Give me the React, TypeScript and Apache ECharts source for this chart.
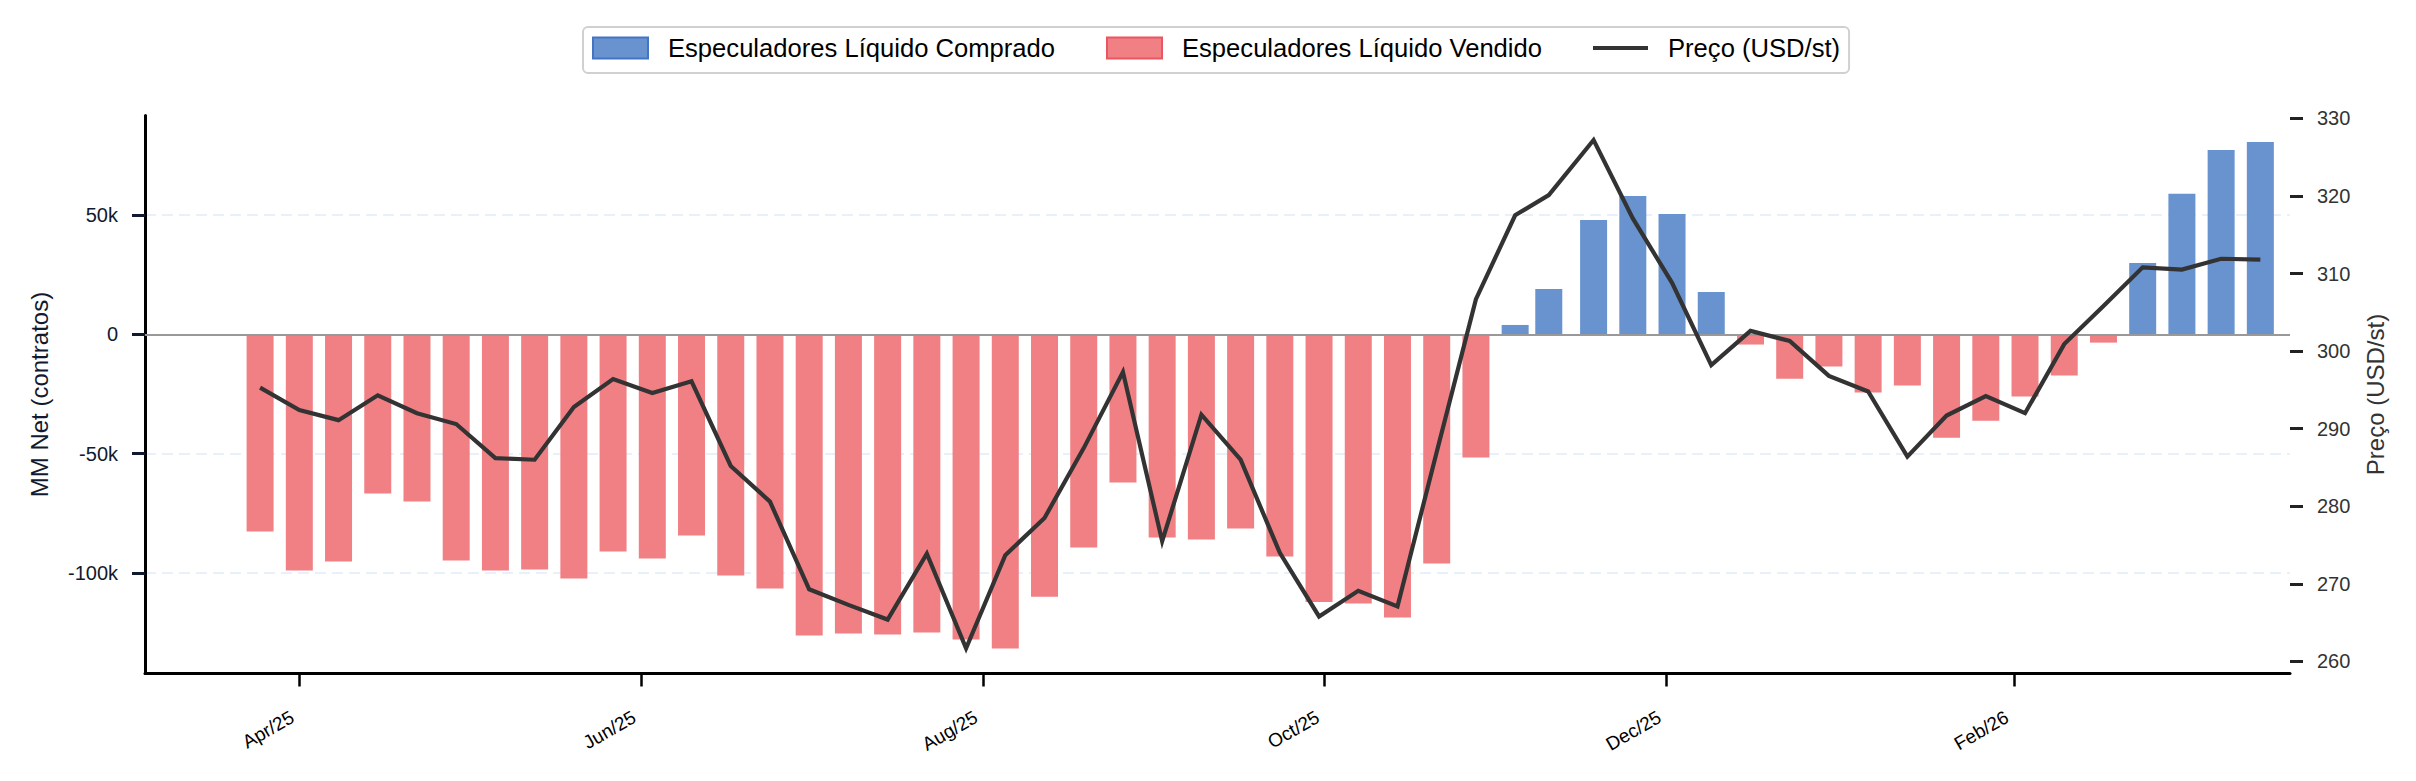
import React, { useEffect, useRef } from 'react';
import * as echarts from 'echarts';

// Weekly COT report dates (Tuesday; Nov 10 due to holiday)
const weekDates = [
  '2025-03-25', '2025-04-01', '2025-04-08', '2025-04-15', '2025-04-22', '2025-04-29',
  '2025-05-06', '2025-05-13', '2025-05-20', '2025-05-27', '2025-06-03', '2025-06-10',
  '2025-06-17', '2025-06-24', '2025-07-01', '2025-07-08', '2025-07-15', '2025-07-22',
  '2025-07-29', '2025-08-05', '2025-08-12', '2025-08-19', '2025-08-26', '2025-09-02',
  '2025-09-09', '2025-09-16', '2025-09-23', '2025-09-30', '2025-10-07', '2025-10-14',
  '2025-10-21', '2025-10-28', '2025-11-04', '2025-11-10', '2025-11-18', '2025-11-25',
  '2025-12-02', '2025-12-09', '2025-12-16', '2025-12-23', '2025-12-30', '2026-01-06',
  '2026-01-13', '2026-01-20', '2026-01-27', '2026-02-03', '2026-02-10', '2026-02-17',
  '2026-02-24', '2026-03-03', '2026-03-10', '2026-03-17',
];

// Managed money net position, thousands of contracts
const mmNetK = [
  -82.6, -99.0, -95.2, -66.7, -70.1, -94.8, -99.0, -98.5, -102.3, -91.0, -93.9, -84.3, -101.1, -106.5,
  -126.2, -125.3, -125.8, -124.9, -127.9, -131.6, -109.9, -89.3, -62.1, -85.1, -86.0, -81.4, -93.1,
  -112.1, -112.8, -118.6, -96.0, -51.6, 3.9, 19.0, 47.9, 57.9, 50.4, 17.7, -4.3, -18.6,
  -13.5, -24.4, -21.5, -43.3, -36.2, -26.1, -17.3, -3.5, 29.9, 58.9, 77.2, 80.5,
];

// Price USD/st
const priceUsd = [
  295.3, 292.4, 291.1, 294.3, 292.0, 290.6, 286.2, 286.0, 292.8, 296.4, 294.6, 296.1, 285.2, 280.6,
  269.3, 267.3, 265.4, 273.9, 261.7, 273.7, 278.5, 287.5, 297.3, 275.5, 291.8, 286.0, 274.0,
  265.8, 269.1, 267.1, 287.0, 306.7, 317.5, 320.1, 327.2, 317.1, 308.8, 298.2, 302.6, 301.3,
  296.8, 294.8, 286.4, 291.7, 294.2, 292.0, 300.9, 305.8, 310.8, 310.5, 311.9, 311.8,
];

const xTickDates = ['2025-04-01', '2025-06-01', '2025-08-01', '2025-10-01', '2025-12-01', '2026-02-01'];
const leftTicks = [-100000, -50000, 0, 50000];
const rightTicks = [260, 270, 280, 290, 300, 310, 320, 330];
const MONTHS = ['Jan', 'Feb', 'Mar', 'Apr', 'May', 'Jun', 'Jul', 'Aug', 'Sep', 'Oct', 'Nov', 'Dec'];

const NAME_LONG = 'Especuladores Líquido Comprado';
const NAME_SHORT = 'Especuladores Líquido Vendido';
const NAME_PRICE = 'Preço (USD/st)';

const ts = (s: string) => {
  const [y, m, d] = s.split('-').map(Number);
  return new Date(y, m - 1, d).getTime();
};

export default function App() {
  const ref = useRef<HTMLDivElement>(null);

  useEffect(() => {
    const chart = echarts.init(ref.current as HTMLDivElement, null, { renderer: 'svg' });
    const font = "'Liberation Sans', Arial, Helvetica, sans-serif";
    const HOUR = 3600 * 1000;

    const longData = weekDates
      .map((d, i) => [ts(d), mmNetK[i] * 1000])
      .filter((p) => p[1] > 0);
    const shortData = weekDates
      .map((d, i) => [ts(d), mmNetK[i] * 1000])
      .filter((p) => p[1] <= 0);
    const priceData = weekDates.map((d, i) => [ts(d), priceUsd[i]]);

    const blue = '#6893cf';
    const red = '#f18085';
    const xTicks = xTickDates.map(ts);

    chart.setOption({
      animation: false,
      textStyle: { fontFamily: font },
      legend: {
        left: 583,
        top: 27,
        orient: 'horizontal',
        padding: [7, 9, 11, 9],
        itemGap: 51,
        itemWidth: 55,
        itemHeight: 21,
        borderColor: '#d0d0d0',
        borderWidth: 2,
        borderRadius: 5,
        backgroundColor: '#ffffff',
        textStyle: {
          fontFamily: font,
          fontSize: 25.6,
          color: '#000000',
          lineHeight: 28,
          padding: [0, 0, 0, 15],
        },
        data: [
          { name: NAME_LONG, icon: 'rect', itemStyle: { color: blue, borderColor: '#4474c4', borderWidth: 2 } },
          { name: NAME_SHORT, icon: 'rect', itemStyle: { color: red, borderColor: '#e95560', borderWidth: 2 } },
          {
            name: NAME_PRICE,
            icon: 'path://M0,0H55V4.2H0Z',
            itemStyle: { color: '#333333', borderWidth: 0 },
          },
        ],
      },
      grid: {
        left: 145,
        right: 126,
        top: 115.6,
        bottom: 107.5,
        containLabel: false,
        outerBoundsMode: 'none',
      },
      xAxis: {
        type: 'value',
        min: ts('2025-03-04') + 11 * HOUR,
        max: ts('2026-03-22') + 7 * HOUR,
        axisLine: { show: true, onZero: false, lineStyle: { color: '#000000', width: 3 } },
        axisTick: {
          show: true,
          length: 13,
          lineStyle: { color: '#000000', width: 2.5 },
          customValues: xTicks,
        },
        axisLabel: {
          show: true,
          rotate: 30,
          margin: 38,
          fontSize: 19,
          color: '#000000',
          fontFamily: font,
          padding: [0, 8, 0, 0],
          customValues: xTicks,
          formatter: (v: number) => {
            const d = new Date(v);
            return `${MONTHS[d.getMonth()]}/${String(d.getFullYear()).slice(2)}`;
          },
        },
        splitLine: { show: false },
      },
      yAxis: [
        {
          type: 'value',
          position: 'left',
          min: -142100,
          max: 91600,
          name: 'MM Net (contratos)',
          nameLocation: 'middle',
          nameRotate: 90,
          nameGap: 94,
          nameTextStyle: { fontSize: 24, color: '#111a2e', fontFamily: font },
          axisLine: { show: true, onZero: false, lineStyle: { color: '#000000', width: 3 } },
          axisTick: {
            show: true,
            length: 13,
            lineStyle: { color: '#111a2e', width: 3 },
            customValues: leftTicks,
          },
          axisLabel: {
            show: true,
            margin: 27,
            fontSize: 20,
            color: '#111a2e',
            fontFamily: font,
            customValues: leftTicks,
            formatter: (v: number) => (v === 0 ? '0' : `${v / 1000}k`),
          },
          splitLine: {
            show: true,
            lineStyle: { color: '#e8f0fc', width: 2, type: [11, 6] },
          },
        },
        {
          type: 'value',
          position: 'right',
          min: 258.45,
          max: 330.35,
          name: NAME_PRICE,
          nameLocation: 'middle',
          nameRotate: 90,
          nameGap: 73,
          nameTextStyle: { fontSize: 24, color: '#333333', fontFamily: font },
          axisLine: { show: false },
          axisTick: {
            show: true,
            length: 13,
            lineStyle: { color: '#222222', width: 3 },
            customValues: rightTicks,
          },
          axisLabel: {
            show: true,
            margin: 27,
            fontSize: 20,
            color: '#333333',
            fontFamily: font,
            customValues: rightTicks,
          },
          splitLine: { show: false },
        },
      ],
      series: [
        {
          name: NAME_LONG,
          type: 'bar',
          yAxisIndex: 0,
          barWidth: 27,
          barGap: '-100%',
          itemStyle: { color: blue },
          data: longData,
        },
        {
          name: NAME_SHORT,
          type: 'bar',
          yAxisIndex: 0,
          barWidth: 27,
          barGap: '-100%',
          itemStyle: { color: red },
          data: shortData,
          markLine: {
            silent: true,
            symbol: ['none', 'none'],
            label: { show: false },
            lineStyle: { color: '#999999', width: 2, type: 'solid' },
            data: [{ yAxis: 0 }],
          },
        },
        {
          name: NAME_PRICE,
          type: 'line',
          yAxisIndex: 1,
          symbol: 'none',
          showSymbol: false,
          lineStyle: { color: '#333333', width: 4.2, join: 'miter' },
          itemStyle: { color: '#333333' },
          data: priceData,
          z: 5,
        },
      ],
    });

    return () => chart.dispose();
  }, []);

  return (
    <div
      ref={ref}
      style={{ position: 'absolute', left: 0, top: 0, width: 2416, height: 781, background: '#ffffff' }}
    />
  );
}
